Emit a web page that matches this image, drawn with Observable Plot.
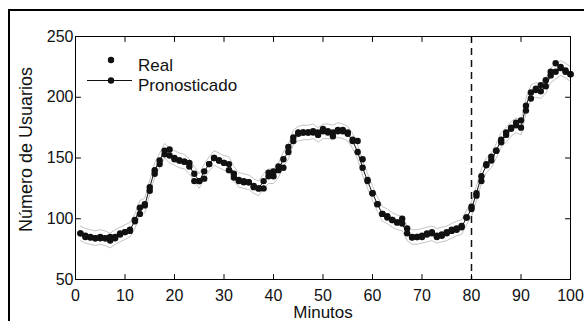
<!DOCTYPE html>
<html><head><meta charset="utf-8">
<script src="https://cdn.jsdelivr.net/npm/d3@7"></script>
<script src="https://cdn.jsdelivr.net/npm/@observablehq/plot@0.6"></script>
<style>
body{margin:0;background:#fff;}
#wrap{position:relative;width:584px;height:321px;overflow:hidden;font-family:"Liberation Sans",Arial,sans-serif;}
#border{position:absolute;left:8px;top:9px;width:700px;height:500px;border:2px solid #000;}
#chart{position:absolute;left:0;top:0;}
#legend{position:absolute;left:0;top:0;}
</style></head><body>
<div id="wrap"><div id="border"></div><div id="chart"></div>
<svg id="legend" width="300" height="100" style="font-family:'Liberation Sans',Arial,sans-serif;font-size:17px;">
  <circle cx="111" cy="60" r="3.2" fill="#111"></circle>
  <text x="138" y="70.5" fill="#111">Real</text>
  <line x1="87" x2="132" y1="80.5" y2="80.5" stroke="#111" stroke-width="1"></line>
  <circle cx="111" cy="80.5" r="3.2" fill="#111"></circle>
  <text x="138" y="91" fill="#111">Pronosticado</text>
</svg>
</div>
<script>
const minutos = d3.range(1, 101);
const real = [88,85,84.5,84,84,84,85,84,88,89,
  90,99,104,112,123,137,145,153,157,149,
  148,147,146,131,131,133,145,150,148,146,
  140,134,131,130,130,126,125,125,138,139,
  143,142,159,164,171,171,171,171,171,174,
  171,168,172,173,171,165,164,149,132,121,
  112,104,101,99,97,100,92,84.5,85,85,
  88,89,85,86,89,91,91,94,101,110,
  119,131,145,151,156,163,171,175,179,181,
  189,199,207,210,214,221,228,225,221,219];
const pronostico = [88,86,85,84,85,84,82,85,87,89,
  91,98,109,111,126,140,148,156,152,150,
  148,147,143,137,131,139,145,150,148,146,
  145,137,132,131,130,127,125,131,135,135,
  140,149,155,167,170,171,171,172,169,172,
  172,171,173,172,170,164,155,142,131,121,
  112,104,102,99,97,96,88,85,85,86,
  87,88,86,87,88,90,92,93,101,108,
  121,135,144,148,156,165,169,174,177,175,
  193,204,206,205,209,218,221,224,222,219];
const margenIC = 6;
const xTicks = [0,10,20,30,40,50,60,70,80,90,100];
const yTicks = [50,100,150,200,250];
const corte = [80];

const datos = minutos.map((t,i) => ({t, real: real[i], pron: pronostico[i], sup: pronostico[i] + margenIC, inf: pronostico[i] - margenIC}));

const tickShape = {draw(context, l) { context.moveTo(0, 0); context.lineTo(0, -l); }};
const tickOpts = {length: 5, anchor: "start", shape: tickShape, stroke: "#000", strokeWidth: 1};

const chart = Plot.plot({
  width: 584, height: 321,
  marginLeft: 75, marginRight: 14, marginTop: 36, marginBottom: 42,
  style: {fontFamily: "Liberation Sans, Arial, sans-serif", fontSize: "16px", color: "#111", background: "transparent"},
  x: {domain: [0,100]},
  y: {domain: [50,250]},
  marks: [
    Plot.line(datos, {x:"t", y:"sup", stroke:"#b4b4b4", strokeWidth:0.8}),
    Plot.line(datos, {x:"t", y:"inf", stroke:"#b4b4b4", strokeWidth:0.8}),
    Plot.line(datos, {x:"t", y:"pron", stroke:"#111", strokeWidth:1}),
    Plot.dot(datos, {x:"t", y:"pron", r:3.2, fill:"#111"}),
    Plot.dot(datos, {x:"t", y:"real", r:3.2, fill:"#111"}),
    Plot.ruleX(corte, {stroke:"#111", strokeWidth:1.5, strokeDasharray:"7,5"}),
    Plot.frame({stroke:"#000"}),
    Plot.vector(xTicks, {x: d => d, frameAnchor: "bottom", rotate: 0, ...tickOpts}),
    Plot.vector(xTicks, {x: d => d, frameAnchor: "top", rotate: 180, ...tickOpts}),
    Plot.vector(yTicks, {y: d => d, frameAnchor: "left", rotate: 90, ...tickOpts}),
    Plot.vector(yTicks, {y: d => d, frameAnchor: "right", rotate: -90, ...tickOpts}),
    Plot.axisX(xTicks, {anchor:"bottom", tickSize:0, tickPadding:10, label:null}),
    Plot.axisY(yTicks, {anchor:"left", tickSize:0, tickPadding:2, label:null}),
    Plot.text(["Número de Usuarios"], {frameAnchor:"left", textAnchor:"middle", lineAnchor:"middle", rotate:-90, dx:-49, dy:-8.5, fontSize:18}),
    Plot.text(["Minutos"], {frameAnchor:"bottom", lineAnchor:"middle", dy:33, fontSize:17})
  ]
});
document.getElementById("chart").appendChild(chart);
</script>
</body></html>
